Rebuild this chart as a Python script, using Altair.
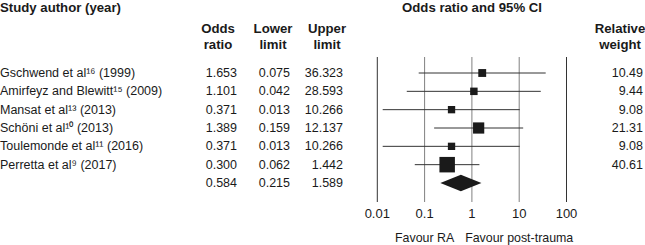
import altair as alt
import pandas as pd

studies = ["Gschwend et al¹⁶ (1999)", "Amirfeyz and Blewitt¹⁵ (2009)", "Mansat et al¹³ (2013)",
           "Schöni et al¹⁰ (2013)", "Toulemonde et al¹¹ (2016)", "Perretta et al⁹ (2017)"]
odds = [1.653, 1.101, 0.371, 1.389, 0.371, 0.300]
lower = [0.075, 0.042, 0.013, 0.159, 0.013, 0.062]
upper = [36.323, 28.593, 10.266, 12.137, 10.266, 1.442]
weights = [10.49, 9.44, 9.08, 21.31, 9.08, 40.61]
pooled = [0.584, 0.215, 1.589]  # odds, lower, upper
ticks = [0.01, 0.1, 1, 10, 100]
tick_labels = ["0.01", "0.1", "1", "10", "100"]
favour_at = [0.1, 10]
favour_labels = ["Favour RA", "Favour post-trauma"]

FONT = "Liberation Sans"
FS = 12.5
HFS = 13.2
TXT = "#1a1a1a"

rows = list(range(len(studies)))
df = pd.DataFrame({
    "row": rows, "study": studies, "or": odds, "lo": lower, "hi": upper, "w": weights,
    "or_t": [f"{v:.3f}" for v in odds], "lo_t": [f"{v:.3f}" for v in lower],
    "hi_t": [f"{v:.3f}" for v in upper], "w_t": [f"{v:.2f}" for v in weights],
})
pool_row = len(studies)
pdf = pd.DataFrame({"row": [pool_row], "or_t": [f"{pooled[0]:.3f}"],
                    "lo_t": [f"{pooled[1]:.3f}"], "hi_t": [f"{pooled[2]:.3f}"]})
allrows = pd.concat([df[["row", "or_t", "lo_t", "hi_t"]], pdf], ignore_index=True)

half = 0.45
diamond = pd.DataFrame({"x": [pooled[1], pooled[0], pooled[2]],
                        "y1": [pool_row, pool_row - half, pool_row],
                        "y2": [pool_row, pool_row + half, pool_row]})

tdf = pd.DataFrame({"t": ticks, "lab": tick_labels})
border = tdf[tdf["t"].isin([0.01, 100])]
inner = tdf[~tdf["t"].isin([0.01, 100])]

xs = alt.Scale(type="log", domain=[0.01, 100], range=[377.3, 566.5], nice=False)
ys = alt.Scale(domain=[0, 6], range=[73, 183], zero=False, nice=False)


def X(f):
    return alt.X(f, type="quantitative", scale=xs, axis=None)


def Y(f):
    return alt.Y(f, type="quantitative", scale=ys, axis=None)


grid_in = alt.Chart(inner).mark_rule(color="#808080", strokeWidth=1).encode(
    x=X("t"), y=alt.value(57), y2=alt.value(202))
grid_b = alt.Chart(border).mark_rule(color="#333333", strokeWidth=1).encode(
    x=X("t"), y=alt.value(57), y2=alt.value(202))

ci = alt.Chart(df).mark_rule(color="#333333", strokeWidth=1).encode(
    x=X("lo"), x2="hi", y=Y("row"))
sq = alt.Chart(df).mark_square(color=TXT, opacity=1, filled=True).encode(
    x=X("or"), y=Y("row"),
    size=alt.Size("w", type="quantitative",
                  scale=alt.Scale(domain=[0, 40.61], range=[0, 240]), legend=None))
dia = alt.Chart(diamond).mark_area(color=TXT, opacity=1).encode(
    x=X("x"), y=Y("y1"), y2="y2")

tick_txt = alt.Chart(tdf).mark_text(font=FONT, fontSize=13, baseline="middle", color=TXT).encode(
    x=X("t"), y=alt.value(214), text="lab")

fav = pd.DataFrame({"t": favour_at, "lab": favour_labels})
fav_txt = alt.Chart(fav).mark_text(font=FONT, fontSize=12.4, baseline="middle", color=TXT).encode(
    x=X("t"), y=alt.value(238), text="lab")


def col(data, field, xpos, align="right"):
    return alt.Chart(data).mark_text(font=FONT, fontSize=FS, baseline="middle", align=align,
                                     color=TXT).encode(
        x=alt.value(xpos), y=Y("row"), text=field)


study_txt = col(df, "study", 0, "left")
or_txt = col(allrows, "or_t", 237)
lo_txt = col(allrows, "lo_t", 290)
hi_txt = col(allrows, "hi_t", 343)
w_txt = col(df, "w_t", 643)

hdr = pd.DataFrame({
    "lab": ["Study author (year)", "Odds ratio and 95% CI", "Odds", "ratio", "Lower", "limit",
            "Upper", "limit", "Relative", "weight"],
    "px": [0, 472, 218, 218, 273, 273, 327, 327, 620, 620],
    "py": [8, 8, 29, 45, 29, 45, 29, 45, 29, 45],
    "al": ["left", "center", "center", "center", "center", "center", "center", "center", "center", "center"],
})


def hdr_layer(align):
    return alt.Chart(hdr[hdr["al"] == align]).mark_text(
        font=FONT, fontSize=HFS, fontWeight="bold", baseline="middle", align=align, color=TXT).encode(
        x=alt.X("px", type="quantitative", scale=None),
        y=alt.Y("py", type="quantitative", scale=None), text="lab")


final = alt.layer(
    grid_in, grid_b, ci, sq, dia, tick_txt, fav_txt,
    study_txt, or_txt, lo_txt, hi_txt, w_txt, hdr_layer("left"), hdr_layer("center")
).resolve_scale(x="independent", y="independent").properties(
    width=645, height=245, padding=0, autosize=alt.AutoSizeParams(type="none"),
    background="white"
).configure_view(stroke=None)

final.save("out.html", embed_options={"renderer": "svg", "actions": False})
